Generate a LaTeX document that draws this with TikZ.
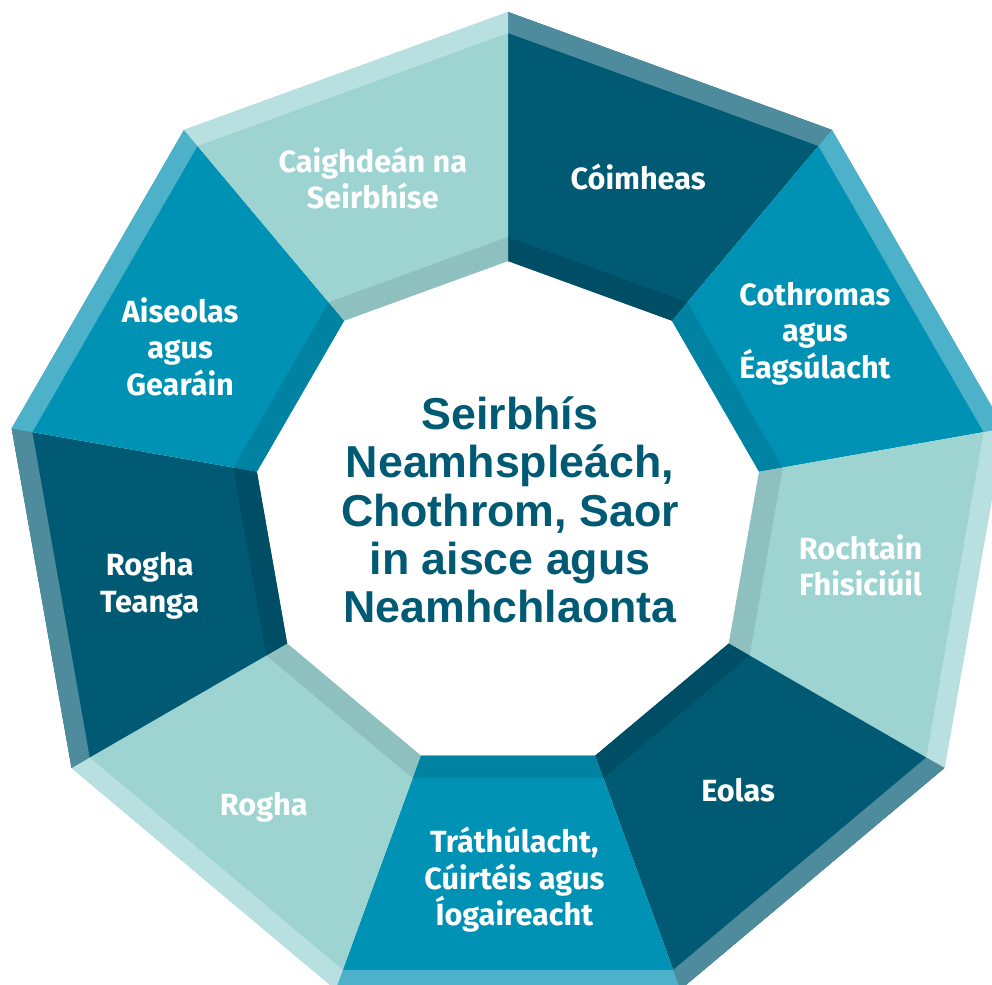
\documentclass[tikz,border=0pt]{standalone}
\usepackage{fontspec}
\setmainfont{Fira Sans}
\newfontfamily\hubfont{Liberation Sans}
\definecolor{darkmain}{HTML}{005A73}
\definecolor{darkouter}{HTML}{4D8B9D}
\definecolor{darkinner}{HTML}{004E65}
\definecolor{midmain}{HTML}{0092B4}
\definecolor{midouter}{HTML}{4DB1CA}
\definecolor{midinner}{HTML}{0083A2}
\definecolor{lightmain}{HTML}{9DD4D2}
\definecolor{lightouter}{HTML}{B8E0E0}
\definecolor{lightinner}{HTML}{8DC0BE}
\begin{document}
\begin{tikzpicture}[x=0.025cm,y=0.025cm]
  \tikzstyle{segtext}=[text=white,align=center,font=\fontsize{21.8}{26}\selectfont\bfseries]
  \tikzstyle{hub}=[text=darkmain,align=center,font=\hubfont\fontsize{31.8}{34.4}\selectfont\bfseries]
  \useasboundingbox (-508,-469) rectangle (484,516);
  \clip (-508,-469) rectangle (484,516);
  % segments
  \fill[darkmain]  (90:504) -- (50:504) -- (50:255) -- (90:255) -- cycle;
  \fill[midmain]   (50:504) -- (10:504) -- (10:255) -- (50:255) -- cycle;
  \fill[lightmain] (10:504) -- (-30:504) -- (-30:255) -- (10:255) -- cycle;
  \fill[darkmain]  (-30:504) -- (-70:504) -- (-70:255) -- (-30:255) -- cycle;
  \fill[midmain]   (-70:504) -- (-110:504) -- (-110:255) -- (-70:255) -- cycle;
  \fill[lightmain] (-110:504) -- (-150:504) -- (-150:255) -- (-110:255) -- cycle;
  \fill[darkmain]  (-150:504) -- (170:504) -- (170:255) -- (-150:255) -- cycle;
  \fill[midmain]   (170:504) -- (130:504) -- (130:255) -- (170:255) -- cycle;
  \fill[lightmain] (130:504) -- (90:504) -- (90:255) -- (130:255) -- cycle;
  % outer bands
  \fill[darkouter]  (90:504) -- (50:504) -- (50:483) -- (90:483) -- cycle;
  \fill[midouter]   (50:504) -- (10:504) -- (10:483) -- (50:483) -- cycle;
  \fill[lightouter] (10:504) -- (-30:504) -- (-30:483) -- (10:483) -- cycle;
  \fill[darkouter]  (-30:504) -- (-70:504) -- (-70:483) -- (-30:483) -- cycle;
  \fill[midouter]   (-70:504) -- (-110:504) -- (-110:483) -- (-70:483) -- cycle;
  \fill[lightouter] (-110:504) -- (-150:504) -- (-150:483) -- (-110:483) -- cycle;
  \fill[darkouter]  (-150:504) -- (170:504) -- (170:483) -- (-150:483) -- cycle;
  \fill[midouter]   (170:504) -- (130:504) -- (130:483) -- (170:483) -- cycle;
  \fill[lightouter] (130:504) -- (90:504) -- (90:483) -- (130:483) -- cycle;
  % inner bands
  \fill[darkinner]  (90:255) -- (50:255) -- (50:279) -- (90:279) -- cycle;
  \fill[midinner]   (50:255) -- (10:255) -- (10:279) -- (50:279) -- cycle;
  \fill[lightinner] (10:255) -- (-30:255) -- (-30:279) -- (10:279) -- cycle;
  \fill[darkinner]  (-30:255) -- (-70:255) -- (-70:279) -- (-30:279) -- cycle;
  \fill[midinner]   (-70:255) -- (-110:255) -- (-110:279) -- (-70:279) -- cycle;
  \fill[lightinner] (-110:255) -- (-150:255) -- (-150:279) -- (-110:279) -- cycle;
  \fill[darkinner]  (-150:255) -- (170:255) -- (170:279) -- (-150:279) -- cycle;
  \fill[midinner]   (170:255) -- (130:255) -- (130:279) -- (170:279) -- cycle;
  \fill[lightinner] (130:255) -- (90:255) -- (90:279) -- (130:279) -- cycle;

  \node[segtext] (CM) at (69:363)    {Cóimheas};
  \node[segtext] (CE) at (30.7:357)  {Cothromas\\agus\\Éagsúlacht};
  \node[segtext] (RF) at (-8:356)    {Rochtain\\Fhisiciúil};
  \node[segtext] (EO) at (-50:358)   {Eolas};
  \node[segtext] (TC) at (-89:364)   {Tráthúlacht,\\Cúirtéis agus\\Íogaireacht};
  \node[segtext] (RO) at (-130:380)  {Rogha};
  \node[segtext] (RT) at (-169:365)  {Rogha\\Teanga};
  \node[segtext] (AG) at (152.7:369) {Aiseolas\\agus\\Gearáin};
  \node[segtext] (CS) at (111.8:364) {Caighdeán na\\Seirbhíse};
  \node[hub] (SN) at (2,6) {Seirbhís\\Neamhspleách,\\Chothrom, Saor\\in aisce agus\\Neamhchlaonta};

\end{tikzpicture}
\end{document}
